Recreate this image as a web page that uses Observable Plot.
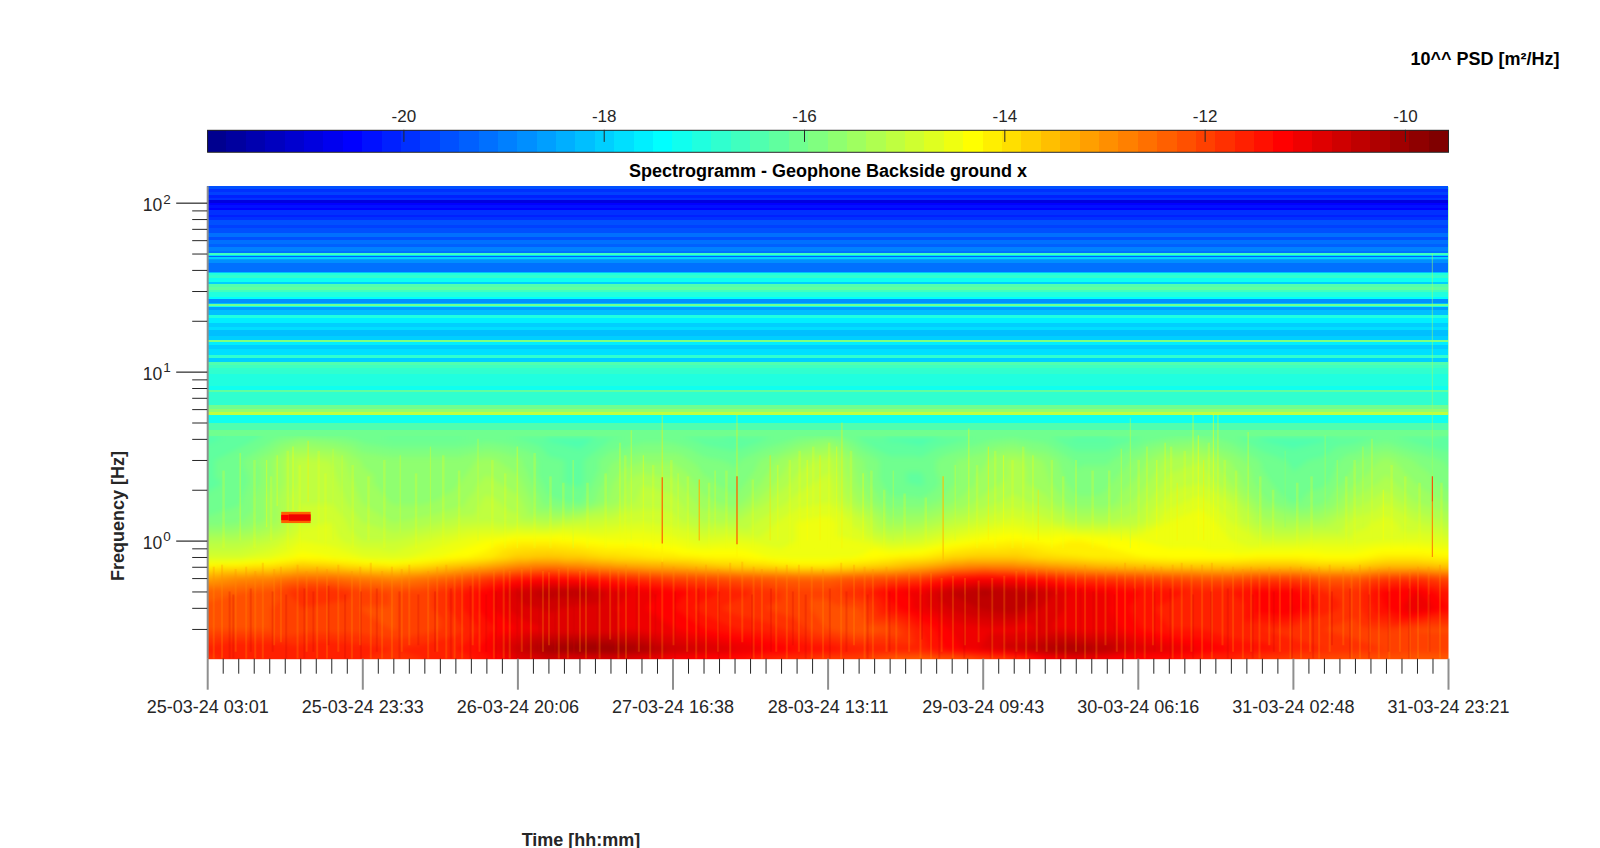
<!DOCTYPE html>
<html><head><meta charset="utf-8">
<script src="https://cdn.jsdelivr.net/npm/d3@7"></script>
<script src="https://cdn.jsdelivr.net/npm/@observablehq/plot@0.6"></script>
<style>
html,body{margin:0;padding:0;background:#fff;overflow:hidden}
#page{position:relative;width:1600px;height:848px;font-family:"Liberation Sans",Arial,sans-serif}
#page>div.t{position:absolute;white-space:nowrap;font-weight:bold;font-size:18px;line-height:20px;transform:translate(-50%,-50%)}
#page>div.p{position:absolute;left:0}
svg{display:block}
</style></head><body><div id="page"></div>
<script>
// ---------- Text ----------
const titleText = "Spectrogramm - Geophone Backside ground x";
const unitText = "10^^ PSD [m²/Hz]";
const yLabelText = "Frequency [Hz]";
const xLabelText = "Time [hh:mm]";
const timeLabels = ["25-03-24 03:01","25-03-24 23:33","26-03-24 20:06","27-03-24 16:38","28-03-24 13:11","29-03-24 09:43","30-03-24 06:16","31-03-24 02:48","31-03-24 23:21"];
const hoursPerMajor = 20.5417;
const hoursPerColumn = 4.1083;
const colorbarTicks = [-20,-18,-16,-14,-12,-10];
const psdDomain = [-21.96,-9.57];
const freqDomain = [0.2,125];
const yMajor = [1,10,100];
const yExponent = ["0","1","2"];
const yMinor = [0.3,0.4,0.5,0.6,0.7,0.8,0.9,2,3,4,5,6,7,8,9,20,30,40,50,60,70,80,90];

// ---------- Read values: log10 PSD per time column (one column each 2 minor ticks) ----------
const psd_0_20 = [-11.8,-11.6,-11.7,-11.7,-11.6,-11.7,-11.8,-11.7,-11.7,-11.4,-10.9,-10.7,-10.9,-10.8,-11.0,-11.2,-11.3,-11.4,-11.7,-11.8,-12.0,-12.0,-12.3,-12.4,-12.3,-12.1,-11.9,-11.3,-11.0,-11.2,-11.3,-11.4,-11.6,-11.7,-11.9,-12.0,-12.1,-12.2,-12.2,-12.3,-12.3];
const psd_0_23 = [-11.6,-11.5,-11.5,-11.6,-11.5,-11.6,-11.7,-11.6,-11.5,-11.2,-10.6,-10.1,-10.0,-10.0,-10.2,-10.6,-10.7,-10.9,-11.1,-11.3,-11.4,-11.6,-11.6,-11.6,-11.2,-10.9,-10.6,-10.3,-10.2,-10.4,-10.8,-10.9,-11.1,-11.3,-11.4,-11.6,-11.7,-11.8,-11.9,-12.0,-12.0];
const psd_0_30 = [-12.1,-12.1,-12.1,-12.0,-12.0,-12.0,-12.1,-12.0,-11.8,-11.4,-11.1,-10.9,-10.9,-10.9,-11.0,-11.1,-11.3,-11.5,-11.6,-11.8,-12.1,-12.3,-12.1,-11.5,-11.1,-11.0,-11.0,-10.9,-11.0,-11.0,-11.3,-11.5,-11.5,-11.7,-11.7,-11.8,-11.9,-12.0,-11.9,-12.1,-12.1];
const psd_0_40 = [-12.2,-12.1,-12.1,-11.9,-12.0,-12.1,-12.1,-12.0,-11.6,-11.2,-10.8,-10.7,-10.8,-10.9,-11.1,-11.3,-11.6,-11.8,-11.9,-12.0,-12.2,-12.1,-11.4,-11.0,-10.7,-10.5,-10.4,-10.8,-11.0,-11.1,-11.4,-11.6,-11.7,-11.7,-11.2,-11.1,-11.6,-11.8,-11.3,-10.9,-11.3];
const psd_0_50 = [-12.4,-12.3,-12.2,-11.7,-11.7,-12.0,-12.1,-12.0,-11.6,-11.2,-10.7,-10.4,-10.4,-10.8,-11.0,-11.2,-11.4,-11.6,-11.8,-12.0,-12.0,-11.7,-11.2,-11.0,-10.5,-10.3,-10.4,-10.6,-11.0,-11.1,-11.3,-11.4,-11.6,-11.5,-11.2,-11.2,-11.7,-11.8,-11.2,-11.1,-11.5];
const psd_0_60 = [-13.2,-12.9,-12.8,-12.5,-12.5,-12.7,-12.8,-12.6,-12.3,-11.9,-11.5,-11.3,-11.4,-11.6,-11.8,-12.0,-12.1,-12.2,-12.3,-12.4,-12.4,-12.2,-12.1,-11.9,-11.4,-11.2,-11.3,-11.5,-11.8,-11.9,-12.0,-12.1,-12.2,-12.2,-12.0,-12.0,-12.3,-12.3,-11.9,-11.8,-12.1];
const psd_0_70 = [-14.1,-14.0,-13.9,-13.6,-13.7,-13.9,-14.0,-13.8,-13.5,-13.2,-12.8,-12.6,-12.8,-13.0,-13.2,-13.3,-13.5,-13.7,-13.8,-14.0,-14.0,-13.8,-13.6,-13.3,-12.9,-12.7,-12.8,-13.0,-13.2,-13.4,-13.5,-13.6,-13.6,-13.6,-13.5,-13.5,-13.7,-13.7,-13.4,-13.4,-13.6];
const psd_0_80 = [-14.8,-14.8,-14.6,-14.3,-14.4,-14.6,-14.7,-14.5,-14.3,-14.1,-13.7,-13.6,-13.7,-13.9,-14.0,-14.1,-14.2,-14.2,-14.4,-14.5,-14.5,-14.4,-14.2,-14.1,-13.8,-13.7,-13.7,-13.9,-14.0,-14.1,-14.2,-14.3,-14.3,-14.3,-14.2,-14.2,-14.3,-14.3,-14.1,-14.1,-14.2];
const psd_1_00 = [-15.2,-15.2,-15.0,-14.6,-14.7,-15.0,-15.0,-14.8,-14.6,-14.4,-14.2,-14.2,-14.3,-14.4,-14.4,-14.5,-14.7,-14.6,-14.7,-14.6,-14.5,-14.6,-14.9,-14.8,-14.5,-14.3,-14.2,-14.3,-14.2,-14.3,-14.4,-14.5,-14.5,-14.6,-14.8,-14.8,-14.7,-14.7,-14.6,-14.6,-14.7];
const psd_1_30 = [-15.9,-15.8,-15.5,-14.9,-14.8,-15.2,-15.4,-15.3,-15.1,-15.0,-15.1,-15.2,-15.0,-14.9,-14.8,-14.9,-15.2,-15.2,-14.9,-14.6,-14.5,-14.9,-15.5,-15.4,-15.1,-14.9,-14.7,-14.9,-15.2,-15.2,-15.1,-14.6,-14.4,-14.8,-15.3,-15.4,-15.3,-14.9,-14.7,-15.0,-15.2];
const psd_1_70 = [-16.1,-16.0,-15.5,-15.0,-15.0,-15.4,-15.6,-15.6,-15.5,-15.1,-15.3,-15.9,-16.0,-15.5,-15.1,-15.1,-15.5,-15.7,-15.2,-14.9,-14.8,-15.4,-15.9,-15.9,-15.6,-15.3,-15.1,-15.3,-15.7,-15.7,-15.3,-14.9,-14.7,-15.0,-15.7,-16.0,-15.8,-15.3,-15.0,-15.4,-15.6];
const psd_2_20 = [-16.2,-16.1,-15.6,-15.1,-15.1,-15.5,-15.7,-15.7,-15.6,-15.3,-15.5,-16.1,-16.2,-15.6,-15.2,-15.3,-15.7,-15.9,-15.5,-15.1,-14.9,-15.6,-16.1,-16.2,-15.8,-15.5,-15.3,-15.5,-15.9,-15.8,-15.5,-15.1,-15.0,-15.4,-15.9,-16.1,-16.0,-15.6,-15.3,-15.6,-15.9];
const psd_3_00 = [-16.2,-16.0,-15.6,-15.1,-15.2,-15.6,-15.7,-15.7,-15.7,-15.5,-15.7,-16.1,-16.2,-15.8,-15.6,-15.6,-15.9,-16.0,-15.7,-15.3,-15.1,-15.7,-16.1,-16.1,-15.8,-15.6,-15.3,-15.6,-16.0,-16.0,-15.7,-15.3,-15.2,-15.6,-16.0,-16.2,-16.1,-15.8,-15.5,-15.8,-16.0];
const psd_4_15 = [-16.4,-16.3,-16.1,-15.8,-15.9,-16.1,-16.2,-16.2,-16.2,-16.1,-16.2,-16.4,-16.5,-16.2,-16.1,-16.1,-16.3,-16.4,-16.2,-16.0,-15.8,-16.2,-16.4,-16.5,-16.3,-16.1,-16.0,-16.1,-16.4,-16.4,-16.2,-16.0,-15.9,-16.1,-16.4,-16.5,-16.4,-16.3,-16.1,-16.3,-16.4];
const lowerRows = [[0.2,psd_0_20],[0.23,psd_0_23],[0.3,psd_0_30],[0.4,psd_0_40],[0.5,psd_0_50],[0.6,psd_0_60],[0.7,psd_0_70],[0.8,psd_0_80],[1,psd_1_00],[1.3,psd_1_30],[1.7,psd_1_70],[2.2,psd_2_20],[3,psd_3_00],[4.15,psd_4_15]];

// Horizontal bands above 4 Hz, nearly constant in time: low Hz, high Hz, level
const upperBands = [
[120,125,-19.5],[115,120,-19.9],[111,115,-19.7],[107,111,-20.2],[104,107,-20.0],[100,104,-20.8],[96.5,100,-20.6],[93,96.5,-20.3],[90.5,93,-20.5],[85,90.5,-20.0],[82,85,-20.2],[79,82,-19.9],[74,79,-19.6],[71,74,-19.8],[66,71,-19.5],[63,66,-19.2],[60,63,-19.5],[57,60,-19.1],[55,57,-19.3],[52,55,-19.0],[50.6,52,-19.2],[49.2,50.6,-16.6],[48.4,49.2,-17.8],[47.5,48.4,-19.3],[46.6,47.5,-17.9],[45.8,46.6,-18.5],[43.8,45.8,-18.7],[39,43.8,-19.1],[38.2,39,-18.1],[37.4,38.2,-17.0],[35.6,37.4,-16.8],[34,35.6,-17.2],[33,34,-18.0],[31.8,33,-16.5],[30.6,31.8,-16.2],[29.7,30.6,-16.7],[27.7,29.7,-17.0],[26.8,27.7,-17.5],[25.6,26.8,-18.7],[25.1,25.6,-18.1],[24.5,25.1,-16.1],[24.2,24.5,-17.2],[23.1,24.2,-18.6],[21.6,23.1,-18.2],[20.9,21.6,-17.1],[19.3,20.9,-17.7],[18.3,19.3,-18.0],[17.6,18.3,-17.8],[16.3,17.6,-18.1],[15.4,16.3,-18.0],[15.05,15.4,-15.9],[14.3,15.05,-17.6],[13.7,14.3,-17.9],[12.5,13.7,-17.8],[12.1,12.5,-16.9],[11.4,12.1,-17.9],[11.0,11.4,-16.4],[10.5,11.0,-16.7],[9.7,10.5,-16.9],[8.91,9.7,-17.0],[8.2,8.91,-17.1],[7.77,8.2,-17.2],[7.57,7.77,-16.3],[7.0,7.57,-16.8],[6.33,7.0,-16.9],[6.0,6.33,-16.1],[5.75,6.0,-15.7],[5.53,5.75,-15.0],[5.2,5.53,-17.2],[4.95,5.2,-17.3],[4.5,4.95,-16.5],[4.15,4.5,-16.1]];

// The short tone near 1.4 Hz: start h, end h, low Hz, high Hz, level
const toneBlocks = [[9.8,13.7,1.27,1.48,-12.4],[10.8,13.7,1.31,1.43,-11.0],[9.8,10.8,1.32,1.42,-11.3]];

// Vertical events: hour, low Hz, high Hz, level
const upperStreaks = [
[4.3,1.0,3.3,-14.7],[7.8,1.2,3.0,-14.5],[9.2,1.6,3.2,-14.5],[11.3,1.5,3.6,-14.4],[13.3,1.7,3.9,-14.2],[16.6,1.0,3.5,-14.8],[17.8,1.1,3.2,-14.9],[25.5,1.1,3.2,-14.8],[29.5,1.0,3.6,-14.9],[35.8,1.0,4.0,-14.9],[41,0.9,3.6,-14.6],[48.4,0.9,3.0,-14.8],
[54.6,1.0,3.8,-14.6],[56.1,1.0,4.5,-14.7],[57.7,0.9,3.2,-14.5],[60.2,0.75,5.5,-14.2],[60.2,0.96,2.37,-12.2],[62.3,1.0,2.5,-14.7],[65.1,1.0,2.3,-13.3],[67.2,1.0,2.6,-14.7],[70.1,0.8,5.6,-14.2],[70.1,0.95,2.4,-12.0],[74.5,1.0,3.2,-14.0],[75.5,1.0,2.8,-14.5],[79.4,1.0,3.0,-14.4],[81.1,1.0,3.2,-14.2],[83.3,1.0,3.6,-14.6],[84,0.9,5.0,-14.2],[86.8,1.0,2.5,-14.4],[90.8,1.0,2.6,-15.0],[97.4,0.75,2.4,-13.5],[99,1.0,2.8,-14.8],[100.8,1.0,4.6,-14.6],[103.4,1.0,3.6,-14.2],[105.4,1.0,3.2,-14.3],[109.3,1.0,3.2,-14.6],[110,1.0,2.0,-14.0],[115,1.0,3.0,-14.6],
[121,1.0,3.5,-14.8],[122.2,0.9,5.3,-15.0],[124.4,1.0,3.6,-14.6],[125.7,1.0,3.0,-14.4],[126.8,1.0,3.8,-14.6],[128.4,1.0,2.2,-14.2],[130.5,1.0,5.6,-14.6],[131.2,1.0,4.2,-14.4],[131.9,1.0,3.0,-14.2],[133.2,1.0,5.6,-14.4],[133.8,1.0,5.6,-14.5],[137.8,1.0,4.4,-14.7],[142.7,1.2,3.4,-15.6],[148,1.2,4.2,-15.2],[149.6,1.1,3.0,-15.0],[153,1.2,3.6,-14.9],[154.2,1.0,4.0,-14.7],[155.7,1.0,2.0,-14.3],
[162.2,2.4,50,-15.5],[162.2,1.7,2.4,-12.0],[162.2,0.8,1.7,-12.7]];
// Fainter greenish-yellow striations through the 1-4 Hz zone: hour, low Hz, high Hz
const midStriations = [[2.1,.9,2.6],[6.2,.9,3],[8.4,1,2.4],[10.6,.9,3.4],[12.2,.9,2.8],[14.7,1,3.4],[15.6,.9,2.5],[19.2,.9,2.8],[21.3,1,2.4],[23.4,.9,3],[27.6,.9,2.5],[31.2,.9,3.2],[33.3,1,2.6],[37.7,.9,3],[39.4,.9,2.5],[43.3,.9,3.3],[45.4,.9,2.4],[47.1,1,2.2],[50.3,.9,2.2],[52.7,.9,2.5],[55.3,.9,3.2],[59,.9,2.8],[61.4,.9,3],[63.6,.9,2.4],[66.4,.9,2.2],[68.7,.9,2.6],[72.2,.9,2.3],[77.1,.9,3],[78.4,.9,3.4],[80.2,.9,3.6],[82.3,.9,3.8],[85.2,.9,3.4],[87.9,.9,2.6],[89.6,.9,2],[92.3,.9,1.9],[95.1,.9,1.8],[101.9,.9,2.8],[104.3,.9,3.4],[106.6,.9,3],[108,.9,3.6],[111.8,.9,3],[113.3,.9,2.4],[117.2,.9,2.6],[119.4,.9,2.6],[123.3,.9,3],[127.6,.9,3.6],[129.4,.9,3.4],[132.6,.9,3.8],[134.7,.9,3],[136.2,.9,2.6],[139.4,.9,2.4],[141.1,.9,2],[144.3,.9,2.2],[146.2,.9,2.4],[150.8,.9,2.4],[151.9,.9,3],[156.8,.9,2.8],[158.6,.9,2.4],[160.5,.9,2.2],[163.4,.9,2.2]];
// Lighter striations in the strong low-frequency band: hour, low Hz, high Hz
const lightStriations = [[0.8,.2,.7],[1.9,.2,.72],[3.7,.22,.68],[5.1,.2,.7],[6.3,.2,.66],[7.3,.2,.74],[8.8,.24,.68],[9.7,.25,.7],[11.9,.2,.72],[13.1,.22,.66],[14.5,.2,.7],[15.8,.2,.68],[17.3,.22,.72],[19.1,.2,.66],[20.2,.24,.7],[21.6,.2,.74],[23.1,.2,.66],[24.4,.2,.7],[25.7,.22,.68],[26.7,.24,.72],[29.2,.2,.66],[30.4,.22,.7],[31.6,.2,.72],[32.7,.2,.66],[33.7,.2,.7],[35.1,.24,.68],[36,.22,.7],[37.9,.2,.66],[39.2,.2,.7],[40,.2,.66],[41.6,.22,.68],[42.8,.2,.7],[44.4,.22,.66],[45.2,.24,.65],[46.5,.2,.68],[47.7,.2,.7],[49.3,.22,.66],[50.1,.2,.68],[51.9,.2,.7],[53.3,.26,.7],[54.4,.2,.66],[55.4,.2,.72],[57.1,.22,.68],[58.6,.2,.68],[60.2,.2,.75],[61.7,.24,.7],[63.5,.22,.68],[64.7,.2,.7],[66,.2,.72],[67.6,.22,.68],[69.2,.2,.74],[70.8,.25,.75],[72.3,.2,.7],[73.4,.2,.68],[75.3,.22,.7],[76.7,.2,.72],[78.3,.22,.72],[80,.2,.7],[81.5,.2,.68],[83.9,.2,.74],[85.6,.24,.72],[87,.2,.7],[88.1,.2,.68],[89.9,.22,.7],[91.2,.2,.66],[92.9,.22,.68],[94.4,.2,.66],[95.8,.2,.64],[97.2,.22,.6],[98.7,.2,.62],[100.3,.24,.6],[102.1,.25,.58],[103.9,.2,.6],[105.5,.2,.62],[107.1,.22,.66],[108.4,.2,.68],[109.8,.22,.68],[111.1,.22,.7],[112.4,.2,.68],[113.6,.2,.68],[115,.22,.7],[116.2,.2,.72],[117.7,.2,.68],[118.9,.24,.7],[120.4,.22,.7],[121.5,.2,.74],[122.8,.2,.7],[124.1,.2,.72],[125.2,.24,.7],[126.3,.22,.7],[127.8,.2,.72],[129,.2,.74],[130.3,.22,.72],[131.7,.2,.72],[133,.2,.74],[134.4,.24,.7],[135.8,.22,.7],[137.1,.2,.68],[138.2,.22,.7],[139.3,.2,.68],[140.6,.24,.7],[142,.22,.68],[143.4,.2,.7],[144.8,.2,.7],[146,.22,.68],[147.2,.2,.7],[148.6,.22,.72],[150.4,.24,.7],[151.5,.2,.68],[152.6,.2,.72],[153.9,.22,.7],[155.1,.2,.68],[156.5,.2,.7],[157.9,.22,.66],[159.2,.2,.68],[160.3,.2,.7],[161.7,.22,.7],[163.2,.2,.72]];
// Darker striations in the same band: hour, low Hz, high Hz
const darkStriations = [[2.9,.2,.5],[3.4,.2,.48],[5.7,.22,.52],[8.6,.22,.5],[10.4,.2,.48],[12.8,.2,.52],[14,.22,.5],[16,.24,.54],[18.2,.2,.48],[20.3,.2,.5],[22.4,.22,.52],[25.4,.2,.5],[27.9,.24,.48],[30.1,.22,.5],[32.2,.2,.52],[34.8,.2,.54],[36.9,.22,.48],[38.2,.2,.5],[41,.2,.52],[43.9,.2,.5],[46,.22,.48],[48.5,.2,.5],[51.6,.2,.52],[54,.22,.5],[56.8,.22,.54],[59.3,.2,.48],[61.9,.2,.5],[65,.22,.52],[67.7,.2,.5],[72.1,.2,.48],[74.6,.22,.52],[77.5,.24,.5],[79.2,.2,.48],[82.4,.2,.52],[84.6,.22,.5],[87.4,.2,.48],[90.3,.22,.5],[94.6,.26,.48],[96.9,.2,.46],[100.2,.2,.48],[103.7,.2,.5],[107,.2,.52],[110.2,.22,.5],[112.4,.24,.48],[115.6,.2,.52],[117.3,.2,.5],[120.1,.22,.48],[122.7,.2,.52],[125.4,.22,.5],[127.5,.2,.52],[130.5,.2,.48],[132.9,.22,.5],[135.1,.2,.52],[138.4,.2,.48],[141.2,.22,.5],[143.6,.2,.52],[146.4,.2,.48],[148.9,.24,.5],[151.3,.2,.52],[153.8,.2,.48],[156.4,.22,.5],[159.1,.2,.52],[161.8,.22,.48]];

// ---------- Colormap (64-step jet) ----------
const clamp01 = v => Math.max(0, Math.min(1, v));
const jetColors = d3.range(64).map(i => {
  const x = (i + 1) / 64;
  const r = clamp01(Math.min(4*x-1.5, -4*x+4.5)), g = clamp01(Math.min(4*x-0.5, -4*x+3.5)), b = clamp01(Math.min(4*x+0.5, -4*x+2.5));
  return d3.rgb(r*255, g*255, b*255).formatHex();
});
const step = (psdDomain[1] - psdDomain[0]) / 64;
const colorEdges = d3.range(65).map(i => psdDomain[0] + i * step);
const colorOptions = {type: "threshold", domain: colorEdges.slice(1, 64), range: jetColors};

// ---------- Tables ----------
const grid = lowerRows.flatMap(([freq, values]) => values.map((level, i) => ({hour: i * hoursPerColumn, freq, level})));
const endHour = hoursPerMajor * 8;
const majorHours = timeLabels.map((_, i) => i * hoursPerMajor);
const minorHours = d3.range(81).filter(i => i % 10).map(i => i * hoursPerMajor / 10);
const ink = "#262626", grey = "#8f8f8f";

// ---------- Colorbar ----------
const colorbar = Plot.plot({
  width: 1600, height: 160,
  marginLeft: 207.1, marginRight: 152, marginTop: 129.8, marginBottom: 8.2,
  style: {fontFamily: "Liberation Sans", background: "transparent"},
  x: {domain: psdDomain},
  y: {domain: [0, 1], axis: null},
  color: colorOptions,
  marks: [
    Plot.rect(d3.range(64), {x1: i => colorEdges[i], x2: i => colorEdges[i+1], y1: 0, y2: 1, fill: i => colorEdges[i] + step/2, shapeRendering: "crispEdges"}),
    Plot.ruleX(colorbarTicks, {y1: 1, y2: 0.45, stroke: ink, strokeWidth: 1}),
    Plot.axisX({anchor: "top", ticks: colorbarTicks, tickSize: 0, tickPadding: 8, tickFormat: d => String(d), fontSize: 17, fill: ink, label: null}),
    Plot.frame({stroke: ink, strokeWidth: 1})
  ]
});

// ---------- Spectrogram ----------
const main = Plot.plot({
  width: 1600, height: 688,
  marginLeft: 207.2, marginRight: 152, marginTop: 26.3, marginBottom: 189.3,
  style: {fontFamily: "Liberation Sans", background: "transparent"},
  x: {domain: [0, endHour]},
  y: {type: "log", domain: freqDomain},
  color: colorOptions,
  marks: [
    Plot.raster(grid, {x: "hour", y: "freq", fill: "level", interpolate: "barycentric", pixelSize: 1, blur: 2}),
    Plot.rect(upperBands, {x1: 0, x2: endHour, y1: d => d[0], y2: d => d[1], fill: d => d[2], shapeRendering: "crispEdges"}),
    Plot.ruleX(lightStriations, {x: d => d[0], y1: d => d[1], y2: d => d[2], stroke: () => -12.9, strokeWidth: 2, strokeOpacity: 0.28, clip: true}),
    Plot.ruleX(darkStriations, {x: d => d[0], y1: d => d[1], y2: d => d[2], stroke: () => -10.6, strokeWidth: 2, strokeOpacity: 0.22, clip: true}),
    Plot.ruleX(midStriations, {x: d => d[0], y1: d => d[1], y2: d => d[2], stroke: () => -14.6, strokeWidth: 2.5, strokeOpacity: 0.25, clip: true}),
    Plot.ruleX(upperStreaks, {x: d => d[0], y1: d => d[1], y2: d => d[2], stroke: d => d[3], strokeWidth: 1.2, strokeOpacity: d => d[3] > -13.6 ? 0.9 : 0.45, clip: true}),
    Plot.rect(toneBlocks, {x1: d => d[0], x2: d => d[1], y1: d => d[2], y2: d => d[3], fill: d => d[4]}),
    Plot.ruleX([0], {y1: freqDomain[0], y2: freqDomain[1], stroke: grey, strokeWidth: 2}),
    Plot.axisX({anchor: "bottom", ticks: minorHours, tickSize: 15, tickFormat: () => "", stroke: ink, strokeWidth: 1, label: null}),
    Plot.axisX({anchor: "bottom", ticks: majorHours, tickSize: 31, tickPadding: 10, tickFormat: h => timeLabels[Math.round(h / hoursPerMajor)], stroke: grey, strokeWidth: 2, fontSize: 18, fill: ink, label: null}),
    Plot.axisY({anchor: "left", ticks: yMinor, tickSize: 15, tickFormat: () => "", stroke: ink, strokeWidth: 1, label: null}),
    Plot.axisY({anchor: "left", ticks: yMajor, tickSize: 31, tickFormat: () => "", stroke: ink, strokeWidth: 1.2, label: null}),
    Plot.text(yMajor, {x: 0, y: d => d, text: () => "10", textAnchor: "end", dx: -45.5, dy: 2, fontSize: 17.5, fill: ink}),
    Plot.text(yMajor, {x: 0, y: d => d, text: (d, i) => yExponent[i], textAnchor: "start", dx: -44.5, dy: -4, fontSize: 13.5, fill: ink})
  ]
});

// ---------- Assembly ----------
const page = document.getElementById("page");
function place(node, top) { const w = document.createElement("div"); w.className = "p"; w.style.top = top + "px"; w.appendChild(node); page.appendChild(w); }
function label(text, cx, cy, color, rotate) { const d = document.createElement("div"); d.className = "t"; d.textContent = text; d.style.left = cx + "px"; d.style.top = cy + "px"; d.style.color = color; if (rotate) d.style.transform = "translate(-50%,-50%) rotate(-90deg)"; page.appendChild(d); }
place(colorbar, 0);
place(main, 160);
label(unitText, 1485, 59, "#000");
label(titleText, 828, 171, "#000");
label(yLabelText, 118, 516, ink, true);
label(xLabelText, 581, 840, ink);
</script></body></html>
